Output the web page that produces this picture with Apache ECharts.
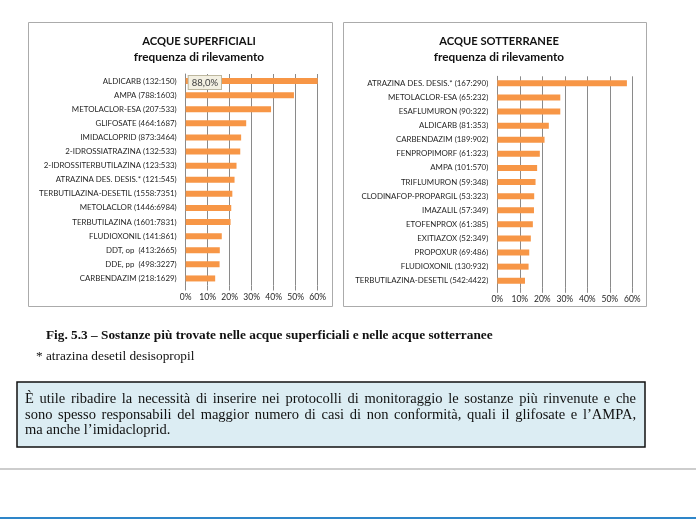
<!DOCTYPE html>
<html><head><meta charset="utf-8">
<script src="https://cdn.jsdelivr.net/npm/echarts@6/dist/echarts.min.js"></script>
<style>html,body{margin:0;padding:0;background:#fff}#c{width:696px;height:519px}</style>
</head><body><div id="c"></div>
<script>
// ---- data ----
const leftCategories = ['ALDICARB (132:150)','AMPA (788:1603)','METOLACLOR-ESA (207:533)','GLIFOSATE (464:1687)','IMIDACLOPRID (873:3464)','2-IDROSSIATRAZINA (132:533)','2-IDROSSITERBUTILAZINA (123:533)','ATRAZINA DES. DESIS.* (121:545)','TERBUTILAZINA-DESETIL (1558:7351)','METOLACLOR (1446:6984)','TERBUTILAZINA (1601:7831)','FLUDIOXONIL (141:861)','DDT, op  (413:2665)','DDE, pp  (498:3227)','CARBENDAZIM (218:1629)'];
const leftValues = [88.0, 49.2, 38.8, 27.5, 25.2, 24.8, 23.1, 22.2, 21.2, 20.7, 20.4, 16.4, 15.5, 15.4, 13.4];
const leftLabelled = ['ALDICARB (132:150)'];
const rightCategories = ['ATRAZINA DES. DESIS.* (167:290)','METOLACLOR-ESA (65:232)','ESAFLUMURON (90:322)','ALDICARB (81:353)','CARBENDAZIM (189:902)','FENPROPIMORF (61:323)','AMPA (101:570)','TRIFLUMURON (59:348)','CLODINAFOP-PROPARGIL (53:323)','IMAZALIL (57:349)','ETOFENPROX (61:385)','EXITIAZOX (52:349)','PROPOXUR (69:486)','FLUDIOXONIL (130:932)','TERBUTILAZINA-DESETIL (542:4422)'];
const rightValues = [57.6, 28.0, 28.0, 22.9, 21.0, 18.9, 17.7, 17.0, 16.4, 16.3, 15.8, 14.9, 14.2, 13.9, 12.3];
const axisMin = 0, axisMax = 60, axisStep = 10;
const titles = [['ACQUE SUPERFICIALI','frequenza di rilevamento'],['ACQUE SOTTERRANEE','frequenza di rilevamento']];
const caption = 'Fig. 5.3 – Sostanze più trovate nelle acque superficiali e nelle acque sotterranee';
const footnote = '* atrazina desetil desisopropil';
const boxLines = [
  'È utile ribadire la necessità di inserire nei protocolli di monitoraggio le sostanze più rinvenute e che',
  'sono spesso responsabili del maggior numero di casi di non conformità, quali il glifosate e l’AMPA,',
  'ma anche l’imidacloprid.'
];

// ---- styles ----
const ORANGE = '#F79646', GRID = '#8a8a8a', TXT = '#262626';
const SANS = 'Lato';
const SERIF = '"Liberation Serif", "DejaVu Serif", serif';

function pct(v){ return v.toFixed(1).replace('.', ',') + '%'; }

function makeData(cats, vals, labelled){
  return vals.map((v, i) => labelled.indexOf(cats[i]) >= 0 ? {
    value: v,
    label: {
      show: true, position: 'insideLeft', distance: 3, offset: [0, 1.5],
      formatter: p => pct(p.value), fontFamily: SANS, fontSize: 9.5, color: '#404040',
      backgroundColor: '#F3F0E2', borderColor: '#BDB79E', borderWidth: 1, padding: [2, 3, 1, 3]
    }
  } : v);
}

const grids = [
  {left: 185.7, top: 74, width: 132, height: 211.5},
  {left: 497.3, top: 76.3, width: 135, height: 211.5}
];

function xAx(i){
  return {
    type: 'value', gridIndex: i, min: axisMin, max: axisMax, interval: axisStep,
    axisLine: {show: false},
    axisTick: {show: true, length: 5, lineStyle: {color: GRID}},
    splitLine: {show: true, lineStyle: {color: GRID, width: 1}},
    axisLabel: {formatter: '{value}%', fontFamily: SANS, fontSize: 8.5, color: TXT, margin: 7}
  };
}
function yAx(i, cats){
  return {
    type: 'category', gridIndex: i, data: cats, inverse: true,
    axisLine: {show: true, lineStyle: {color: GRID}},
    axisTick: {show: false},
    axisLabel: {fontFamily: SANS, fontSize: 7.9, color: TXT, margin: 9, interval: 0}
  };
}

// justified text via measurement
const cv = document.createElement('canvas').getContext('2d');
const boxFont = 14.5;
cv.font = boxFont + 'px ' + SERIF;
const graphics = [];
// chart frames
graphics.push({type:'rect', shape:{x:28.5, y:22.5, width:304, height:284}, style:{fill:'none', stroke:'#ABABAB', lineWidth:1}, z:-1});
graphics.push({type:'rect', shape:{x:343.5, y:22.5, width:303, height:284}, style:{fill:'none', stroke:'#ABABAB', lineWidth:1}, z:-1});
// caption
graphics.push({type:'text', x:46, y:336, style:{text:caption, font:'bold 13.3px ' + SERIF, fill:'#111', verticalAlign:'middle'}});
graphics.push({type:'text', x:36, y:356.5, style:{text:footnote, font:'13.3px ' + SERIF, fill:'#111', verticalAlign:'middle'}});
// text box
graphics.push({type:'rect', shape:{x:17, y:382, width:628, height:65}, style:{fill:'#DCEDF3', stroke:'#111', lineWidth:1.5}});
const bx0 = 25, bx1 = 636, lineY = [399.5, 415.3, 430.6];
boxLines.forEach((ln, li) => {
  const words = ln.split(' ');
  const justify = li < boxLines.length - 1;
  const widths = words.map(w => cv.measureText(w).width);
  const total = widths.reduce((a, b) => a + b, 0);
  const gap = justify ? (bx1 - bx0 - total) / (words.length - 1) : cv.measureText(' ').width;
  let x = bx0;
  words.forEach((w, wi) => {
    graphics.push({type:'text', x: x, y: lineY[li], style:{text:w, font: boxFont + 'px ' + SERIF, fill:'#111', verticalAlign:'middle'}});
    x += widths[wi] + gap;
  });
});
// page rules
graphics.push({type:'line', shape:{x1:0, y1:469, x2:696, y2:469}, style:{stroke:'#BDBDBD', lineWidth:1.5}});
graphics.push({type:'line', shape:{x1:0, y1:518, x2:696, y2:518}, style:{stroke:'#2E86C9', lineWidth:2}});

const chart = echarts.init(document.getElementById('c'), null, {renderer: 'canvas'});
chart.setOption({
  animation: false,
  backgroundColor: '#ffffff',
  title: titles.map((t, i) => ({
    text: '{a|' + t[0] + '}\n{b|' + t[1] + '}',
    left: i === 0 ? 194 : 494, top: 29, textAlign: 'center',
    textStyle: {
      rich: {
        a: {fontFamily: SANS, fontWeight: 'bold', fontSize: 11.2, color: '#111', lineHeight: 15.6, align: 'center'},
        b: {fontFamily: SANS, fontWeight: 'bold', fontSize: 11.8, color: '#111', lineHeight: 15.6, align: 'center'}
      }
    }
  })),
  grid: grids,
  xAxis: [xAx(0), xAx(1)],
  yAxis: [yAx(0, leftCategories), yAx(1, rightCategories)],
  series: [
    {type: 'bar', xAxisIndex: 0, yAxisIndex: 0, data: makeData(leftCategories, leftValues, leftLabelled), barWidth: 6, itemStyle: {color: ORANGE}},
    {type: 'bar', xAxisIndex: 1, yAxisIndex: 1, data: makeData(rightCategories, rightValues, []), barWidth: 6, itemStyle: {color: ORANGE}}
  ],
  graphic: graphics
});
</script></body></html>
